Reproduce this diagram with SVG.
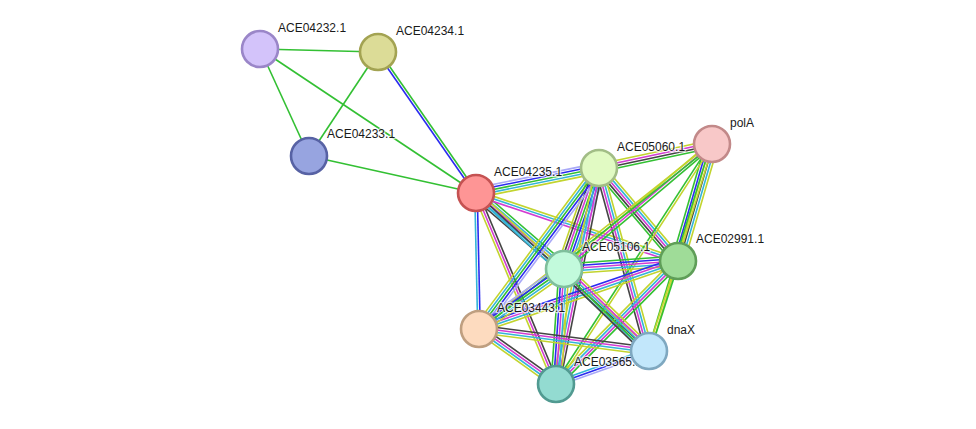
<svg xmlns="http://www.w3.org/2000/svg" width="976" height="429" viewBox="0 0 976 429">
<style>
.e path{fill:none;stroke-width:1.6}
.g{stroke:#33c033}.b{stroke:#2b2bf0}.c{stroke:#33b5d8}.m{stroke:#d23cd2}.y{stroke:#c2d42e}.k{stroke:#444}.h{stroke:#a9a9f7}
.n circle{stroke-width:2.6}
.n text{font-family:"Liberation Sans",Arial,sans-serif;font-size:12px;fill:#1a1a1a;stroke:#fff;stroke-width:2.5px;stroke-opacity:0.7;paint-order:stroke;stroke-linejoin:round}
</style>
<rect width="976" height="429" fill="#fff"/>
<g id="edges" class="e">
<g transform="translate(260 49) rotate(1.46)"><path class="g" d="M0 0H118"/></g>
<g transform="translate(260 49) rotate(65.4)"><path class="g" d="M0 0H117.7"/></g>
<g transform="translate(260 49) rotate(33.69)"><path class="g" d="M0 0H259.6"/></g>
<g transform="translate(378 52) rotate(123.56)"><path class="g" d="M0 0H124.8"/></g>
<g transform="translate(378 52) rotate(55.2)"><path class="g" d="M0 -1.25H171.7"/><path class="b" d="M0 1.25H171.7"/></g>
<g transform="translate(309 156) rotate(12.49)"><path class="g" d="M0 0H171"/></g>
<g transform="translate(476 193) rotate(-11.49)"><path class="h" d="M0 -5H125.5"/><path class="b" d="M0 -2.5H125.5"/><path class="g" d="M0 0H125.5"/><path class="c" d="M0 2.5H125.5"/><path class="y" d="M0 5H125.5"/></g>
<g transform="translate(476 193) rotate(40.82)"><path class="g" d="M0 -5H116.3"/><path class="c" d="M0 -2.5H116.3"/><path class="m" d="M0 0H116.3"/><path class="c" d="M0 2.5H116.3"/><path class="k" d="M0 5H116.3"/></g>
<g transform="translate(476 193) rotate(18.6)"><path class="y" d="M0 -2.5H213.1"/><path class="c" d="M0 0H213.1"/><path class="m" d="M0 2.5H213.1"/></g>
<g transform="translate(476 193) rotate(88.74)"><path class="b" d="M0 -1.25H136"/><path class="c" d="M0 1.25H136"/></g>
<g transform="translate(476 193) rotate(67.27)"><path class="k" d="M0 -2.5H207.1"/><path class="m" d="M0 0H207.1"/><path class="y" d="M0 2.5H207.1"/></g>
<g transform="translate(476 193) rotate(42.41)"><path class="y" d="M0 -2.5H234.3"/><path class="k" d="M0 0H234.3"/><path class="c" d="M0 2.5H234.3"/></g>
<g transform="translate(599 168) rotate(-11.99)"><path class="y" d="M0 -3.75H115.5"/><path class="m" d="M0 -1.25H115.5"/><path class="k" d="M0 1.25H115.5"/><path class="g" d="M0 3.75H115.5"/></g>
<g transform="translate(599 168) rotate(109.12)"><path class="h" d="M0 -7.5H106.9"/><path class="c" d="M0 -5H106.9"/><path class="b" d="M0 -2.5H106.9"/><path class="g" d="M0 0H106.9"/><path class="m" d="M0 2.5H106.9"/><path class="k" d="M0 5H106.9"/><path class="y" d="M0 7.5H106.9"/></g>
<g transform="translate(599 168) rotate(49.65)"><path class="y" d="M0 -5H122"/><path class="c" d="M0 -2.5H122"/><path class="m" d="M0 0H122"/><path class="k" d="M0 2.5H122"/><path class="g" d="M0 5H122"/></g>
<g transform="translate(599 168) rotate(126.7)"><path class="h" d="M0 -5H200.8"/><path class="b" d="M0 -2.5H200.8"/><path class="g" d="M0 0H200.8"/><path class="c" d="M0 2.5H200.8"/><path class="y" d="M0 5H200.8"/></g>
<g transform="translate(599 168) rotate(74.72)"><path class="y" d="M0 -3.75H189.7"/><path class="c" d="M0 -1.25H189.7"/><path class="m" d="M0 1.25H189.7"/><path class="k" d="M0 3.75H189.7"/></g>
<g transform="translate(599 168) rotate(101.26)"><path class="k" d="M0 -3.75H220.2"/><path class="m" d="M0 -1.25H220.2"/><path class="c" d="M0 1.25H220.2"/><path class="y" d="M0 3.75H220.2"/></g>
<g transform="translate(712 144) rotate(106.2)"><path class="y" d="M0 -6.25H121.8"/><path class="c" d="M0 -3.75H121.8"/><path class="k" d="M0 -1.25H121.8"/><path class="y" d="M0 1.25H121.8"/><path class="b" d="M0 3.75H121.8"/><path class="g" d="M0 6.25H121.8"/></g>
<g transform="translate(712 144) rotate(139.82)"><path class="g" d="M0 -2.5H193.7"/><path class="m" d="M0 0H193.7"/><path class="y" d="M0 2.5H193.7"/></g>
<g transform="translate(712 144) rotate(141.55)"><path class="g" d="M0 -1.25H297.5"/><path class="y" d="M0 1.25H297.5"/></g>
<g transform="translate(712 144) rotate(106.93)"><path class="y" d="M0 -1.25H216.4"/><path class="g" d="M0 1.25H216.4"/></g>
<g transform="translate(712 144) rotate(123.02)"><path class="y" d="M0 -1.25H286.2"/><path class="g" d="M0 1.25H286.2"/></g>
<g transform="translate(678 261) rotate(175.99)"><path class="y" d="M0 -5H114.3"/><path class="c" d="M0 -2.5H114.3"/><path class="m" d="M0 0H114.3"/><path class="b" d="M0 2.5H114.3"/><path class="g" d="M0 5H114.3"/></g>
<g transform="translate(678 261) rotate(161.14)"><path class="y" d="M0 -3.75H210.3"/><path class="c" d="M0 -1.25H210.3"/><path class="m" d="M0 1.25H210.3"/><path class="b" d="M0 3.75H210.3"/></g>
<g transform="translate(678 261) rotate(107.86)"><path class="g" d="M0 -1.25H94.6"/><path class="y" d="M0 1.25H94.6"/></g>
<g transform="translate(678 261) rotate(134.77)"><path class="g" d="M0 -3.75H173.2"/><path class="m" d="M0 -1.25H173.2"/><path class="c" d="M0 1.25H173.2"/><path class="y" d="M0 3.75H173.2"/></g>
<g transform="translate(564 269) rotate(144.78)"><path class="y" d="M0 -5H104"/><path class="c" d="M0 -2.5H104"/><path class="g" d="M0 0H104"/><path class="b" d="M0 2.5H104"/><path class="h" d="M0 5H104"/></g>
<g transform="translate(564 269) rotate(43.97)"><path class="y" d="M0 -5H118.1"/><path class="m" d="M0 -2.5H118.1"/><path class="c" d="M0 0H118.1"/><path class="g" d="M0 2.5H118.1"/><path class="k" d="M0 5H118.1"/></g>
<g transform="translate(564 269) rotate(93.98)"><path class="y" d="M0 -5H115.3"/><path class="c" d="M0 -2.5H115.3"/><path class="m" d="M0 0H115.3"/><path class="b" d="M0 2.5H115.3"/><path class="g" d="M0 5H115.3"/></g>
<g transform="translate(479 329) rotate(7.37)"><path class="k" d="M0 -3.75H171.4"/><path class="m" d="M0 -1.25H171.4"/><path class="c" d="M0 1.25H171.4"/><path class="y" d="M0 3.75H171.4"/></g>
<g transform="translate(479 329) rotate(35.54)"><path class="k" d="M0 -3.75H94.6"/><path class="m" d="M0 -1.25H94.6"/><path class="c" d="M0 1.25H94.6"/><path class="y" d="M0 3.75H94.6"/></g>
<g transform="translate(649 351) rotate(160.46)"><path class="h" d="M0 -2.5H98.7"/><path class="b" d="M0 0H98.7"/><path class="c" d="M0 2.5H98.7"/></g>
</g>
<g id="n-ACE04232" class="n"><circle cx="260" cy="49" r="18" fill="#d3c3fa" stroke="#9a86c8"/><text x="278" y="32">ACE04232.1</text></g>
<g id="n-ACE04234" class="n"><circle cx="378" cy="52" r="18" fill="#dcdc97" stroke="#a3a352"/><text x="396" y="35">ACE04234.1</text></g>
<g id="n-ACE04233" class="n"><circle cx="309" cy="156" r="18" fill="#97a4e0" stroke="#5762a4"/><text x="327" y="138">ACE04233.1</text></g>
<g id="n-ACE04235" class="n"><circle cx="476" cy="193" r="18" fill="#fe9595" stroke="#c55252"/><text x="494" y="176">ACE04235.1</text></g>
<g id="n-ACE05060" class="n"><circle cx="599" cy="168" r="18" fill="#e1fac3" stroke="#a2bd86"/><text x="617" y="151">ACE05060.1</text></g>
<g id="n-polA" class="n"><circle cx="712" cy="144" r="18" fill="#f8c8c8" stroke="#c28989"/><text x="730" y="127">polA</text></g>
<g id="n-ACE02991" class="n"><circle cx="678" cy="261" r="18" fill="#9fdc98" stroke="#5f9e58"/><text x="696" y="243">ACE02991.1</text></g>
<g id="n-ACE05106" class="n"><circle cx="564" cy="269" r="18" fill="#c2fadc" stroke="#7fbf9c"/><text x="582" y="251">ACE05106.1</text></g>
<g id="n-ACE03443" class="n"><circle cx="479" cy="329" r="18" fill="#fddbbf" stroke="#bf9f80"/><text x="497" y="312">ACE03443.1</text></g>
<g id="n-ACE03565" class="n"><circle cx="556" cy="384" r="18" fill="#93dbd1" stroke="#519a91"/><text x="574" y="366">ACE03565.1</text></g>
<g id="n-dnaX" class="n"><circle cx="649" cy="351" r="18" fill="#c2e7fb" stroke="#7fa8c0"/><text x="667" y="334">dnaX</text></g>
</svg>
